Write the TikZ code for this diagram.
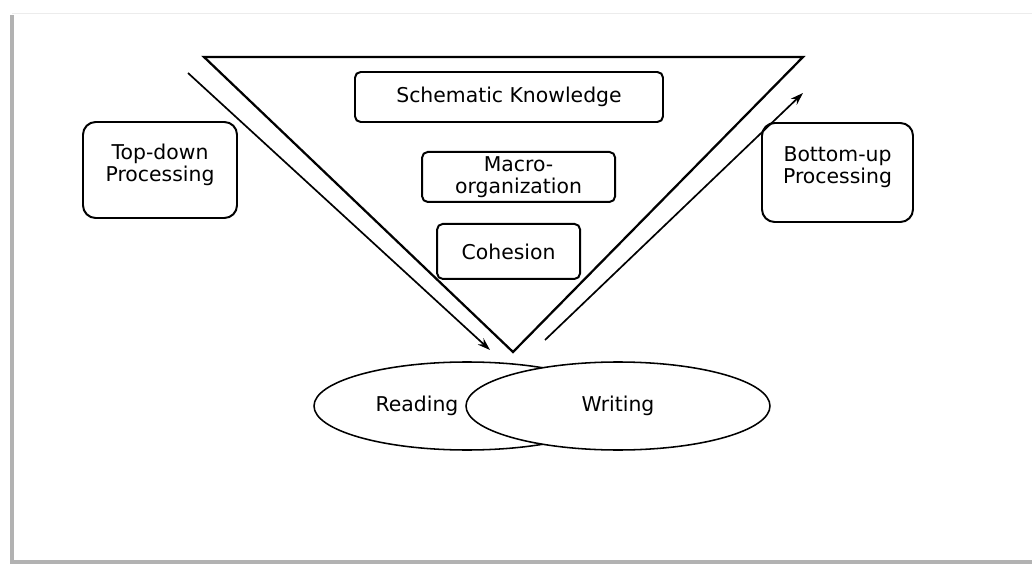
\documentclass[tikz,border=0pt]{standalone}
\usepackage{fontspec}
\setmainfont{DejaVu Sans}
\usepackage{tikz}
\usetikzlibrary{shapes.geometric, arrows.meta, positioning, calc}

\begin{document}
\begin{tikzpicture}[
  every node/.style = {font=\fontsize{14.5}{16}\selectfont},
  % node styles
  level/.style   = {rectangle, rounded corners=4pt, draw=black, line width=1.4pt,
                    align=center, inner sep=2pt},
  process/.style = {rectangle, rounded corners=9pt, draw=black, line width=1.4pt,
                    minimum width=3.85cm, minimum height=2.4cm, inner sep=0pt},
  oval/.style    = {ellipse, draw=black, line width=1.1pt, fill=white,
                    minimum width=7.65cm, minimum height=2.2cm},
  % arrow styles
  arr/.style     = {-{Stealth[length=9pt, width=6pt]}, line width=1.2pt},
  frame/.style   = {line width=2.2pt, color=gray!60},
]
\useasboundingbox (0,0) rectangle (25.8,-14.15);

%% Screenshot frame
\draw[gray!15, line width=0.8pt] (0.3,-0.33) -- (25.8,-0.33);
\draw[frame] (0.3,-0.38) -- (0.3,-14.05) -- (25.8,-14.05);

%% Inverted triangle
\coordinate (tl)   at (5.1,-1.425);
\coordinate (tr)   at (20.075,-1.425);
\coordinate (apex) at (12.825,-8.8);
\draw[line width=1.6pt, line join=miter] (tl) -- (tr) -- (apex) -- cycle;

%% Levels inside the triangle
\node[level, minimum width=7.7cm, minimum height=1.25cm] (schema) at (12.725,-2.425) {Schematic Knowledge};
\node[level, minimum width=4.825cm, minimum height=1.25cm, below=0.7cm of schema, xshift=0.24cm] (macro) {Macro-\\organization};
\node[level, minimum width=3.575cm, minimum height=1.375cm, below=0.5cm of macro, xshift=-0.25cm] (cohesion) {Cohesion};

%% Processing boxes
\node[process, label={[name=tdtext, anchor=north, align=center, yshift=-0.45cm]north:Top-down\\Processing}] (topdown) at (4.0,-4.25) {};
\node[process, minimum width=3.775cm, minimum height=2.475cm,
      label={[name=butext, anchor=north, align=center, yshift=-0.48cm]north:Bottom-up\\Processing}] (bottomup) at (20.9375,-4.3125) {};

%% Direction arrows
\coordinate (tdstart) at (4.7,-1.825);
\coordinate (tdend)   at (12.25,-8.75);
\coordinate (bustart) at (13.625,-8.5);
\coordinate (buend)   at (20.075,-2.325);
\draw[arr] (tdstart) -- (tdend);
\draw[arr] (bustart) -- (buend);

%% Reading and writing
\node[oval] (reading) at (11.675,-10.15) {};
\node (readtext) at ([xshift=-1.25cm]reading.center) {Reading};
\node[oval, minimum width=7.6cm] (writing) at ([xshift=3.775cm]reading.center) {Writing};

\end{tikzpicture}
\end{document}
